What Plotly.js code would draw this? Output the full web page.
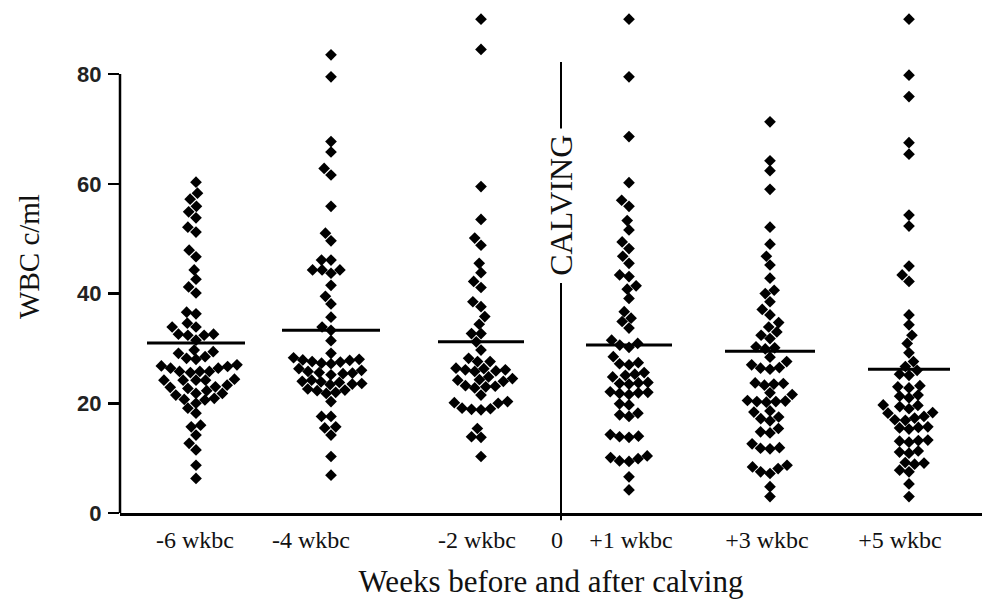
<!DOCTYPE html>
<html>
<head>
<meta charset="utf-8">
<script src="https://cdn.plot.ly/plotly-3.0.1.min.js"></script>
<style>html,body{margin:0;padding:0;background:#fff;}#chart{width:982px;height:600px;}</style>
</head>
<body>
<div id="chart"></div>
<script>
// ---------------- DATA ----------------
const tickLabels = ['-6 wkbc', '-4 wkbc', '-2 wkbc', '0', '+1 wkbc', '+3 wkbc', '+5 wkbc'];
const groupNames = ['-6 wkbc', '-4 wkbc', '-2 wkbc', '+1 wkbc', '+3 wkbc', '+5 wkbc'];

const wbc_m6 = [60.3, 58.3, 57.2, 55.9, 54.9, 53.8, 52.1, 51.2, 47.9, 46.7, 44.3, 42.6, 41.2, 40.1,
  36.6, 36.3, 34.6, 33.9, 33.9, 32.6, 32.6, 32.4, 32.4, 31.5,
  29.7, 29.4, 29.1, 28.5, 28.2, 28.0, 27.0, 26.8, 26.7, 26.4, 26.4, 25.8, 25.8, 25.6, 25.8,
  24.4, 24.2, 24.2, 24.2, 24.2, 23.3, 23.0, 22.9, 22.7, 22.3, 21.8, 21.8, 21.5, 20.9, 20.7,
  20.6, 20.0, 19.1, 18.2, 16.0, 15.7, 14.2, 12.7, 11.5, 8.7, 6.3];
const wbc_m4 = [83.5, 79.5, 67.7, 65.8, 62.8, 61.6, 55.9, 51.0, 49.6, 46.1, 46.1, 44.3, 44.3, 44.3,
  43.7, 41.5, 39.5, 38.1, 35.7, 33.9, 33.3, 31.4, 29.1,
  27.9, 27.6, 27.3, 28.0, 27.5, 27.8, 27.2, 28.3,
  25.8, 25.5, 25.2, 26.0, 25.4, 25.6, 26.3,
  24.0, 23.8, 23.5, 24.2, 23.6, 23.9, 23.4,
  22.3, 22.0, 21.8, 22.4, 22.6, 20.3, 17.6, 17.6, 15.7, 15.5, 14.2, 10.3, 6.9];
const wbc_m2 = [90.0, 84.5, 59.5, 53.5, 50.1, 48.8, 45.5, 43.8, 42.2, 41.1, 38.5, 37.6, 35.8, 34.4,
  32.7, 32.7, 31.2, 29.7, 28.2, 27.6, 27.6, 26.1, 26.3, 25.9, 26.1, 26.4, 25.8,
  24.2, 24.5, 24.0, 24.3, 24.8, 23.0, 23.1, 22.8, 23.2, 21.5, 20.0, 20.3, 20.1,
  18.8, 18.9, 19.1, 19.0, 15.4, 13.8, 13.9, 10.3];
const wbc_p1 = [90.0, 79.5, 68.6, 60.2, 57.0, 55.9, 53.3, 51.6, 49.4, 48.2, 46.8, 45.5, 43.4, 43.1,
  41.4, 40.8, 39.1, 36.7, 35.5, 34.9, 33.7, 31.5, 30.6, 30.2, 30.9, 28.5, 27.2, 27.0, 27.4,
  25.1, 25.3, 25.6, 24.8, 23.6, 23.8, 23.5, 23.7, 22.1, 21.9, 22.0, 21.6, 21.8, 19.7, 19.9,
  17.9, 17.6, 18.2, 13.9, 13.8, 14.0, 14.3, 9.5, 10.1, 9.9, 10.4, 9.4, 6.6, 4.2];
const wbc_p3 = [71.3, 64.2, 62.4, 59.0, 52.1, 49.0, 46.8, 45.2, 42.8, 40.6, 40.0, 38.5, 37.1, 36.1,
  34.7, 33.9, 33.0, 32.4, 31.8, 30.3, 30.1, 29.9, 28.4, 27.6, 27.0, 26.2, 26.5, 26.4,
  23.3, 23.5, 23.6, 23.7, 21.9, 21.6, 20.3, 20.5, 20.4, 20.3, 20.2, 18.6, 18.4, 17.2, 17.5,
  16.8, 15.4, 14.8, 14.6, 11.8, 11.7, 11.9, 12.6, 7.5, 8.4, 8.1, 8.7, 7.2, 4.8, 3.0];
const wbc_p5 = [90.0, 79.8, 75.9, 67.5, 65.4, 54.3, 52.3, 45.0, 43.4, 42.2, 36.1, 34.3, 32.4, 30.9,
  29.2, 27.6, 26.7, 26.0, 25.1, 25.3, 23.0, 23.2, 22.8, 21.0, 21.3, 21.5, 19.7, 19.4, 18.2,
  19.6, 19.0, 18.3, 17.3, 17.0, 17.6, 16.9, 15.5, 15.7, 15.6, 15.3, 13.1, 13.3, 13.2, 12.9,
  10.9, 11.1, 11.3, 8.9, 9.1, 9.2, 7.5, 7.8, 5.3, 3.0];
const groupMeans = [31.0, 33.3, 31.2, 30.6, 29.5, 26.2];
const calvingLineRange = [82.2, 70.1, 41.9]; // top of line, bottom of upper part, top of lower part

// ---------------- LAYOUT CONSTANTS ----------------
const groupX = [0.76, 2.11, 3.61, 5.09, 6.50, 7.89];
const tickX = [0.75, 1.91, 3.57, 4.37, 5.11, 6.47, 7.80];
const calvingX = 4.41;
const meanHalf = [0.49, 0.49, 0.43, 0.43, 0.45, 0.41];
const W = 982, H = 600, ML = 120, MB = 87;
const xRange = [0, 8.62], yRange = [0, 93.5];
const pxX = (W - ML) / (xRange[1] - xRange[0]);
const pxY = (H - MB) / (yRange[1] - yRange[0]);

function swarm(values, d) {
  const order = values.map((v, i) => i).sort((a, b) => values[a] - values[b]);
  const placed = [], xs = new Array(values.length);
  for (const i of order) {
    const y = values[i] * pxY;
    const iv = [];
    for (const p of placed) {
      const dy = Math.abs(p.y - y);
      if (dy < d) { const w = Math.sqrt(d * d - dy * dy); iv.push([p.x - w, p.x + w]); }
    }
    const cands = [0];
    iv.forEach(r => cands.push(r[0], r[1]));
    cands.sort((a, b) => Math.abs(a) - Math.abs(b) || a - b);
    let x = 0;
    for (const c of cands) {
      if (iv.every(r => c <= r[0] + 1e-9 || c >= r[1] - 1e-9)) { x = c; break; }
    }
    placed.push({ x, y }); xs[i] = x;
  }
  return xs;
}

const series = [wbc_m6, wbc_m4, wbc_m2, wbc_p1, wbc_p3, wbc_p5];
const traces = [];
series.forEach((vals, g) => {
  const off = swarm(vals, 9.5);
  traces.push({
    type: 'scatter', mode: 'markers', name: groupNames[g],
    x: off.map(o => groupX[g] + o / pxX), y: vals,
    marker: { symbol: 'diamond', size: 9, color: '#000', line: { width: 0 } },
    hoverinfo: 'y', showlegend: false, cliponaxis: false
  });
  traces.push({
    type: 'scatter', mode: 'lines', name: groupNames[g] + ' mean',
    x: [groupX[g] - meanHalf[g], groupX[g] + meanHalf[g]], y: [groupMeans[g], groupMeans[g]],
    line: { color: '#000', width: 3 }, hoverinfo: 'skip', showlegend: false
  });
});

const serif = 'Liberation Serif, Times New Roman, serif';
const layout = {
  width: W, height: H,
  margin: { l: ML, r: 0, t: 0, b: MB },
  paper_bgcolor: '#fff', plot_bgcolor: '#fff',
  showlegend: false,
  xaxis: {
    range: xRange, showgrid: false, zeroline: false,
    showline: true, linecolor: '#000', linewidth: 2.5,
    ticks: '', tickmode: 'array', tickvals: tickX, ticktext: tickLabels,
    tickfont: { family: serif, size: 24, color: '#111' },
    ticklabelstandoff: 4,
    title: { text: 'Weeks before and after calving', font: { family: serif, size: 31, color: '#111' }, standoff: 18 }
  },
  yaxis: {
    range: yRange, showgrid: false, zeroline: false, showline: false,
    ticks: 'outside', ticklen: 11, tickwidth: 2.5, tickcolor: '#000',
    tickmode: 'array', tickvals: [0, 20, 40, 60, 80],
    tickfont: { family: 'Liberation Sans, Arial, sans-serif', size: 22, color: '#222', weight: 'bold' },
    ticklabelstandoff: 2,
    title: { text: 'WBC c/ml', font: { family: serif, size: 29, color: '#111' }, standoff: 28 }
  },
  shapes: [
    { type: 'line', xref: 'paper', yref: 'y', x0: 0, x1: 0, y0: 0, y1: 80, line: { color: '#000', width: 2.5 } },
    { type: 'line', xref: 'x', yref: 'y', x0: calvingX, x1: calvingX, y0: calvingLineRange[1], y1: calvingLineRange[0], line: { color: '#000', width: 2 } },
    { type: 'line', xref: 'x', yref: 'paper', x0: calvingX, x1: calvingX, y0: -0.014, y1: calvingLineRange[2] / yRange[1], line: { color: '#000', width: 2 } }
  ],
  annotations: [
    { x: calvingX, y: (calvingLineRange[1] + calvingLineRange[2]) / 2, xref: 'x', yref: 'y',
      text: 'CALVING', showarrow: false, textangle: -90,
      font: { family: serif, size: 32, color: '#111' } }
  ]
};

Plotly.newPlot('chart', traces, layout, { staticPlot: true, displayModeBar: false });
</script>
</body>
</html>
